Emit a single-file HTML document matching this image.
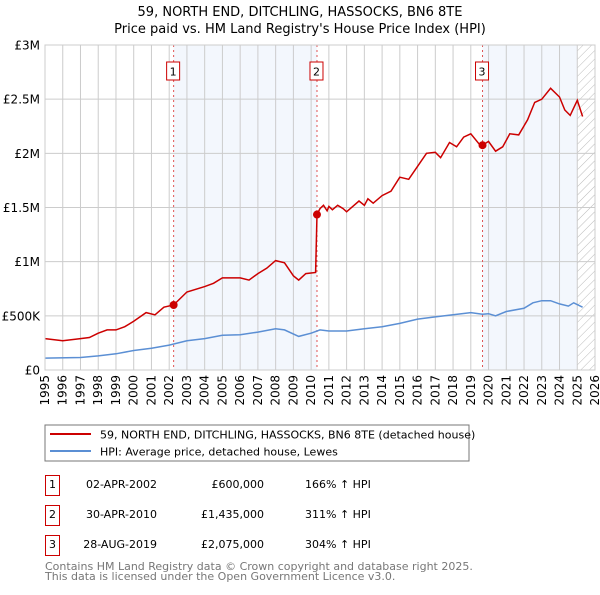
<!DOCTYPE html>
<html><head><meta charset="utf-8"><style>
body{margin:0;background:#fff;font-family:"Liberation Sans","DejaVu Sans",sans-serif;}
</style></head><body>
<svg width="600" height="590" xmlns="http://www.w3.org/2000/svg" font-family="DejaVu Sans, Liberation Sans, sans-serif">
<defs><pattern id="hatch" width="6" height="6" patternUnits="userSpaceOnUse" patternTransform="rotate(45)"><line x1="0" y1="0" x2="0" y2="6" stroke="#bbb" stroke-width="1"/></pattern></defs>
<text x="300" y="16" text-anchor="middle" font-size="13">59, NORTH END, DITCHLING, HASSOCKS, BN6 8TE</text>
<text x="300" y="33" text-anchor="middle" font-size="13">Price paid vs. HM Land Registry's House Price Index (HPI)</text>
<g id="plot"></g>
<rect x="45" y="425" width="424" height="36" fill="#fff" stroke="#777"/>
<line x1="50" y1="434" x2="91" y2="434" stroke="#cc0000" stroke-width="2"/>
<text x="100" y="438.5" font-size="11">59, NORTH END, DITCHLING, HASSOCKS, BN6 8TE (detached house)</text>
<line x1="50" y1="451" x2="91" y2="451" stroke="#5b8fd4" stroke-width="2"/>
<text x="100" y="455.5" font-size="11">HPI: Average price, detached house, Lewes</text>
<g font-size="11">
<rect x="45.5" y="475.5" width="14" height="20" fill="#fff" stroke="#cc0000"/><text x="52.5" y="488" text-anchor="middle">1</text>
<text x="157" y="488" text-anchor="end">02-APR-2002</text><text x="264" y="488" text-anchor="end">£600,000</text><text x="305" y="488">166% ↑ HPI</text>
<rect x="45.5" y="505.5" width="14" height="20" fill="#fff" stroke="#cc0000"/><text x="52.5" y="518" text-anchor="middle">2</text>
<text x="157" y="518" text-anchor="end">30-APR-2010</text><text x="264" y="518" text-anchor="end">£1,435,000</text><text x="305" y="518">311% ↑ HPI</text>
<rect x="45.5" y="535.5" width="14" height="20" fill="#fff" stroke="#cc0000"/><text x="52.5" y="548" text-anchor="middle">3</text>
<text x="157" y="548" text-anchor="end">28-AUG-2019</text><text x="264" y="548" text-anchor="end">£2,075,000</text><text x="305" y="548">304% ↑ HPI</text>
</g>
<text x="45" y="570" font-size="11" fill="#777">Contains HM Land Registry data © Crown copyright and database right 2025.</text>
<text x="45" y="580" font-size="11" fill="#777">This data is licensed under the Open Government Licence v3.0.</text>
</svg>
<script>
const redYears=[1995,1996,1997,1997.5,1998,1998.5,1999,1999.5,2000,2000.7,2001.2,2001.7,2002.25,2003,2004,2004.5,2005,2006,2006.5,2007,2007.5,2008,2008.5,2009,2009.3,2009.7,2010.25,2010.33,2010.5,2010.7,2010.9,2011,2011.2,2011.5,2011.8,2012,2012.7,2013.0,2013.2,2013.5,2014,2014.5,2015,2015.5,2016,2016.5,2017,2017.3,2017.8,2018.2,2018.6,2019,2019.5,2019.66,2020,2020.4,2020.8,2021.2,2021.7,2022.2,2022.6,2023,2023.5,2024,2024.3,2024.6,2025,2025.3];
const redValues=[290,270,290,300,340,370,370,400,450,530,510,580,600,720,770,800,850,850,830,890,940,1010,990,870,830,890,900,1435,1490,1520,1470,1510,1480,1520,1490,1460,1560,1520,1580,1540,1610,1650,1780,1760,1880,2000,2010,1960,2100,2060,2150,2180,2080,2075,2110,2020,2060,2180,2170,2310,2470,2500,2600,2520,2400,2350,2490,2340];
const hpiYears=[1995,1997,1998,1999,2000,2001,2002,2003,2004,2005,2006,2007,2008,2008.5,2009.3,2010,2010.5,2011,2012,2013,2014,2015,2016,2017,2018,2019,2019.66,2020,2020.4,2021,2022,2022.5,2023,2023.5,2024,2024.5,2024.8,2025.3];
const hpiValues=[110,115,130,150,180,200,230,270,290,320,325,350,380,370,310,340,370,360,360,380,400,430,470,490,510,530,515,520,500,540,570,620,640,640,610,590,620,580];
const saleYears=[2002.25,2010.33,2019.66];
const saleValues=[600,1435,2075];
const saleLabels=["1","2","3"];
const yTicks=[0,500,1000,1500,2000,2500,3000];
const yTickLabels=["£0","£500K","£1M","£1.5M","£2M","£2.5M","£3M"];
const xTicks=[];for(let y=1995;y<=2026;y++)xTicks.push(y);

const X0=45,X1=595,Y0=370,Y1=45;
const xs=v=>X0+(v-1995)/(2026-1995)*(X1-X0);
const ys=v=>Y0-(v/3000)*(Y0-Y1);
const NS="http://www.w3.org/2000/svg";
const g=document.getElementById('plot');
function mk(t,a){const e=document.createElementNS(NS,t);for(const k in a)e.setAttribute(k,a[k]);g.appendChild(e);return e;}
let e;
e=mk('rect',{x:xs(saleYears[0]),y:Y1,width:xs(saleYears[1])-xs(saleYears[0]),height:Y0-Y1,fill:'#eef3fc',opacity:0.7});


e=mk('rect',{x:xs(saleYears[2]),y:Y1,width:xs(2025)-xs(saleYears[2]),height:Y0-Y1,fill:'#eef3fc',opacity:0.7});


e=mk('rect',{x:xs(2025),y:Y1,width:X1-xs(2025),height:Y0-Y1,fill:'url(#hatch)'});


xTicks.forEach(t=>{
 e=mk('line',{x1:xs(t),x2:xs(t),y1:Y1,y2:Y0,stroke:'#ccc','stroke-width':1});
 
 
 e=mk('text',{x:0,y:0,'font-size':12,'text-anchor':'end',transform:`translate(${xs(t)+4},${Y0+5}) rotate(-90)`});
 e.textContent=t;
 
 
});
yTicks.forEach((t,i)=>{
 e=mk('line',{x1:X0,x2:X1,y1:ys(t),y2:ys(t),stroke:'#ccc','stroke-width':1});
 
 
 e=mk('text',{x:X0-5,y:ys(t)+4.5,'font-size':12,'text-anchor':'end'});
 e.textContent=yTickLabels[i];
 
 
});
saleYears.forEach((s,i)=>{
 e=mk('line',{x1:xs(s),x2:xs(s),y1:Y1,y2:Y0,stroke:'#e05555','stroke-dasharray':'2,3','stroke-width':1});
 
 
});
function path(xa,va){return xa.map((x,i)=>(i?'L':'M')+xs(x).toFixed(1)+','+ys(va[i]).toFixed(1)).join('');}
e=mk('path',{d:path(hpiYears,hpiValues),fill:'none',stroke:'#5b8fd4','stroke-width':1.5});


e=mk('path',{d:path(redYears,redValues),fill:'none',stroke:'#cc0000','stroke-width':1.5});


saleYears.forEach((s,i)=>{
 e=mk('circle',{cx:xs(s),cy:ys(saleValues[i]),r:4,fill:'#cc0000'});
 
 
 e=mk('rect',{x:xs(s)-7,y:62,width:13,height:18,fill:'#fff',stroke:'#cc0000'});
 
 
 e=mk('text',{x:xs(s)-0.5,y:75.5,'font-size':11,'text-anchor':'middle'});
 e.textContent=saleLabels[i];
 
 
});
e=mk('rect',{x:X0,y:Y1,width:X1-X0,height:Y0-Y1,fill:'none',stroke:'#ccc'});


</script>
</body></html>
